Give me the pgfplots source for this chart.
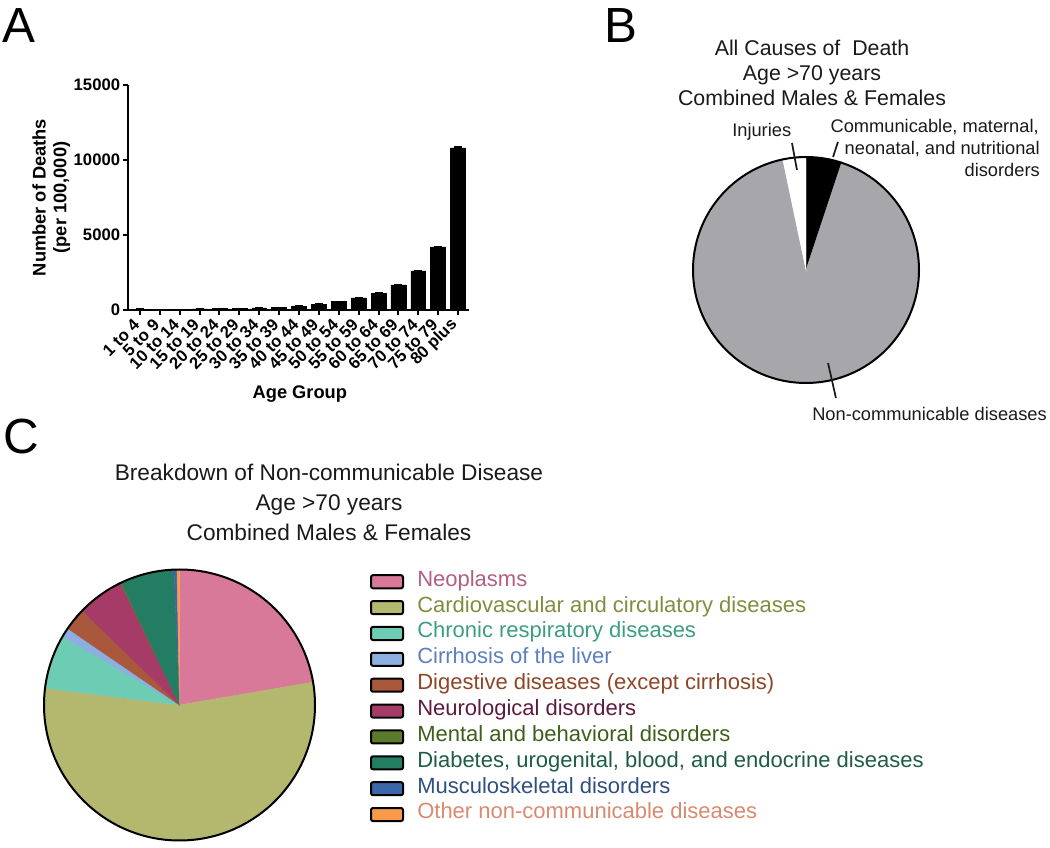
\documentclass[border=0pt]{standalone}
\usepackage{fontspec}
\setmainfont{Liberation Sans}
\usepackage{pgfplots}
\usepackage{pgfplotstable}
\pgfplotsset{compat=1.18}

\definecolor{pieGray}{HTML}{A7A7AB}
\definecolor{neo}{HTML}{D9799A}
\definecolor{cardio}{HTML}{B3B86E}
\definecolor{chronic}{HTML}{6DCDB4}
\definecolor{cirr}{HTML}{8CAEE0}
\definecolor{dig}{HTML}{A9583C}
\definecolor{neuro}{HTML}{A53B66}
\definecolor{mental}{HTML}{5B7A2C}
\definecolor{diab}{HTML}{237D62}
\definecolor{musc}{HTML}{3C66AA}
\definecolor{other}{HTML}{F89A4A}
\definecolor{neoT}{HTML}{B35E85}
\definecolor{cardioT}{HTML}{7E8E3E}
\definecolor{chronicT}{HTML}{3D9C84}
\definecolor{cirrT}{HTML}{5C7FC0}
\definecolor{digT}{HTML}{8E4626}
\definecolor{neuroT}{HTML}{5E1B3E}
\definecolor{mentalT}{HTML}{3D5F1B}
\definecolor{diabT}{HTML}{1E5C45}
\definecolor{muscT}{HTML}{2F4F80}
\definecolor{otherT}{HTML}{D98A6E}
\definecolor{txt}{HTML}{1A1A1A}

% Panel A: deaths per 100,000 by age group
\pgfplotstableread{
x y e
0 60 5
1 35 3
2 40 3
3 75 5
4 95 5
5 110 5
6 140 8
7 180 8
8 250 10
9 380 10
10 550 15
11 800 20
12 1130 25
13 1670 30
14 2600 40
15 4200 50
16 10800 60
}\tableA

% Panel B: all causes, age >70 (percent, clockwise from 12 o'clock)
\pgfplotstableread{
value color
5.1 black
91.6 pieGray
3.3 white
}\tableB

% Panel C: non-communicable breakdown (percent, clockwise from 12 o'clock)
\pgfplotstableread{
value color
22.3 neo
54.7 cardio
6.45 chronic
1.1 cirr
2.7 dig
5.6 neuro
0.1 mental
6.4 diab
0.35 musc
0.3 other
}\tableC

\newcommand\drawpie[2]{%
 \pgfplotsextra{%
  \pgfplotstablegetrowsof{#1}%
  \pgfmathtruncatemacro\pieN{\pgfplotsretval-1}%
  \xdef\pieA{90}%
  \foreach \i in {0,...,\pieN}{%
    \pgfplotstablegetelem{\i}{value}\of#1\let\pieV\pgfplotsretval
    \pgfplotstablegetelem{\i}{color}\of#1\let\pieC\pgfplotsretval
    \pgfmathsetmacro\pieB{\pieA-3.6*\pieV}%
    \fill[fill=\pieC, draw=\pieC, line width=0.3pt] (axis cs:0,0) -- (axis cs:{cos(\pieA)},{sin(\pieA)}) arc[start angle=\pieA, end angle=\pieB, radius=#2] -- cycle;
    \xdef\pieA{\pieB}%
  }%
  \draw[line width=1.5pt] (axis cs:0,0) circle[radius=#2];
 }}

\begin{document}
\begin{tikzpicture}
\path[use as bounding box] (0pt,0pt) rectangle (787.5pt,-636pt);

% ---------------- Panel A ----------------
\begin{axis}[
  at={(96pt,-232.5pt)}, anchor=south west,
  scale only axis, width=255.75pt, height=168.75pt,
  xmin=-0.6, xmax=16.55, ymin=0, ymax=15000,
  axis x line*=bottom, axis y line*=left,
  axis line style={line width=1.5pt},
  tick align=outside, major tick length=3.75pt,
  major tick style={line width=1.5pt, black},
  xtick={0,...,16},
  xticklabels={1 to 4,5 to 9,10 to 14,15 to 19,20 to 24,25 to 29,30 to 34,35 to 39,40 to 44,45 to 49,50 to 54,55 to 59,60 to 64,65 to 69,70 to 74,75 to 79,80 plus},
  xticklabel style={rotate=45, anchor=east, inner sep=1pt, xshift=-4.5pt, yshift=-2pt, font=\bfseries\fontsize{12.5}{13}\selectfont},
  ytick={0,5000,10000,15000},
  scaled y ticks=false,
  yticklabel style={font=\bfseries\fontsize{12.5}{13}\selectfont, inner sep=2pt},
  /pgf/number format/assume math mode=true,
  /pgf/number format/1000 sep={},
  ylabel={Number of Deaths\\(per 100,000)},
  ylabel style={align=center, at={(axis description cs:-0.225,0.5)}, anchor=center, font=\bfseries\fontsize{13.7}{15.5}\selectfont},
  xlabel={Age Group},
  xlabel style={at={(axis description cs:0.504,-0.372)}, anchor=center, font=\bfseries\fontsize{13.7}{15}\selectfont},
  ybar, bar width=0.75,
]
\addplot[ybar, fill=black, draw=black,
  error bars/.cd, y dir=both, y explicit,
  error bar style={line width=1pt, black},
  error mark options={rotate=90, mark size=3pt, line width=1pt, black}]
  table[x=x, y=y, y error=e] {\tableA};
\end{axis}

% ---------------- Panel B ----------------
\begin{axis}[
  at={(604.5pt,-202.5pt)}, anchor=center,
  scale only axis, width=169.5pt, height=169.5pt,
  xmin=-1, xmax=1, ymin=-1, ymax=1,
  hide axis, clip=false,
]
\drawpie{\tableB}{84.75pt}
\draw[line width=1.3pt, txt] (axis cs:-0.124,1.124) -- (axis cs:-0.080,0.885);
\draw[line width=1.3pt, txt] (axis cs:0.283,1.133) -- (axis cs:0.239,1.0);
\draw[line width=1.3pt, txt] (axis cs:0.195,-0.823) -- (axis cs:0.265,-1.133);
\end{axis}

% ---------------- Panel C ----------------
\begin{axis}[
  at={(134.625pt,-528.75pt)}, anchor=center,
  scale only axis, width=203.25pt, height=203.25pt,
  xmin=-1, xmax=1, ymin=-1, ymax=1,
  hide axis, clip=false,
  legend style={at={(axis description cs:1.203,1.0026)}, anchor=north west,
    draw=none, fill=none, inner sep=0pt, outer sep=0pt, row sep=0pt,
    font=\fontsize{16.5}{19}\selectfont,
    nodes={inner sep=0pt, text height=13pt, text depth=6.4pt}},
  legend cell align=left,
  legend image code/.code={%
    \draw[#1, line width=1.5pt, rounded corners=1.5pt] (0pt,-4.9pt) rectangle (24pt,4.9pt);
    \path (34.5pt,0pt);},
]
\drawpie{\tableC}{101.625pt}
\addlegendimage{fill=neo, draw=black}
\addlegendentry{\textcolor{neoT}{Neoplasms}}
\addlegendimage{fill=cardio, draw=black}
\addlegendentry{\textcolor{cardioT}{Cardiovascular and circulatory diseases}}
\addlegendimage{fill=chronic, draw=black}
\addlegendentry{\textcolor{chronicT}{Chronic respiratory diseases}}
\addlegendimage{fill=cirr, draw=black}
\addlegendentry{\textcolor{cirrT}{Cirrhosis of the liver}}
\addlegendimage{fill=dig, draw=black}
\addlegendentry{\textcolor{digT}{Digestive diseases (except cirrhosis)}}
\addlegendimage{fill=neuro, draw=black}
\addlegendentry{\textcolor{neuroT}{Neurological disorders}}
\addlegendimage{fill=mental, draw=black}
\addlegendentry{\textcolor{mentalT}{Mental and behavioral disorders}}
\addlegendimage{fill=diab, draw=black}
\addlegendentry{\textcolor{diabT}{Diabetes, urogenital, blood, and endocrine diseases}}
\addlegendimage{fill=musc, draw=black}
\addlegendentry{\textcolor{muscT}{Musculoskeletal disorders}}
\addlegendimage{fill=other, draw=black}
\addlegendentry{\textcolor{otherT}{Other non-communicable diseases}}
\end{axis}

% ---------------- Annotations (pixel coordinates) ----------------
\begin{scope}[x=0.75pt, y=-0.75pt]
\node[anchor=base west, inner sep=0pt, font=\fontsize{37}{37}\selectfont] at (2,43) {A};
\node[anchor=base west, inner sep=0pt, font=\fontsize{37}{37}\selectfont] at (604,43) {B};
\node[anchor=base west, inner sep=0pt, font=\fontsize{37}{37}\selectfont] at (3,454) {C};

\begin{scope}[every node/.style={inner sep=0pt, anchor=base, text=txt, font=\fontsize{16}{18}\selectfont}]
\node at (812,56) {All Causes of\ \ Death};
\node at (812,81) {Age >70 years};
\node at (812,106) {Combined Males \& Females};
\end{scope}

\begin{scope}[every node/.style={inner sep=0pt, text=txt, font=\fontsize{13.7}{15.5}\selectfont}]
\node[anchor=base west] at (732,137) {Injuries};
\node[anchor=base east] at (1039,133) {Communicable, maternal,};
\node[anchor=base east] at (1040,155) {neonatal, and nutritional};
\node[anchor=base east] at (1040,177) {disorders};
\node[anchor=base west] at (812,421) {Non-communicable diseases};
\end{scope}

\begin{scope}[every node/.style={inner sep=0pt, anchor=base, text=txt, font=\fontsize{17}{20}\selectfont}]
\node at (329,481) {Breakdown of Non-communicable Disease};
\node at (329,511) {Age >70 years};
\node at (329,541) {Combined Males \& Females};
\end{scope}
\end{scope}
\end{tikzpicture}
\end{document}
